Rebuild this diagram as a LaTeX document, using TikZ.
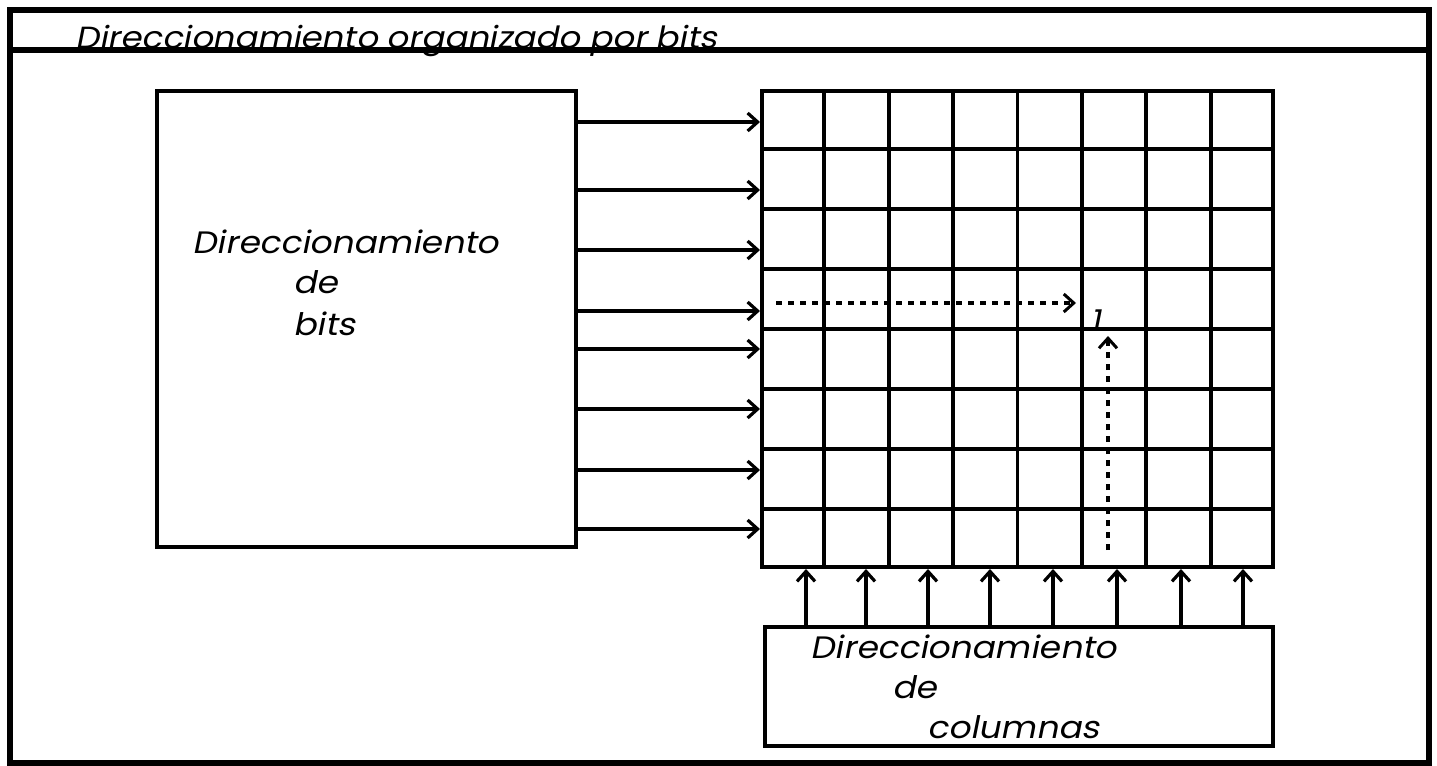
\documentclass[tikz,border=0pt]{standalone}
\usepackage{fontspec}
\newfontfamily\gothic[FakeSlant=0.2,FakeStretch=1.11]{Poppins}
\usetikzlibrary{arrows.meta,fit,calc}
\tikzset{
  frame/.style={draw=black,line width=3.3pt},
  boxstyle/.style={draw=black,line width=2pt,inner sep=0pt},
  gridline/.style={draw=black,line width=1.9pt},
  arr/.style={draw=black,line width=1.8pt,-{Straight Barb[length=5pt,width=9pt,line width=1.6pt]}},
  dotarr/.style={draw=black,line width=1.6pt,dash pattern=on 3pt off 3pt,-{Straight Barb[length=5pt,width=9pt,line width=1.5pt,sep=0pt]}},
  lbl/.style={anchor=base west,inner sep=0pt,font=\gothic\fontsize{15.5}{18}\selectfont},
  ttl/.style={anchor=base west,inner sep=0pt,font=\gothic\fontsize{15.3}{17}\selectfont},
}
\begin{document}
\begin{tikzpicture}[x=0.5pt,y=-0.5pt]
\useasboundingbox (0,0) rectangle (1437,766);
% outer frame and title
\node[frame,fit={(10,10) (1429,763)},inner sep=0pt] (outer) {};
\coordinate (tl) at (10,50);
\coordinate (tr) at (1429,50);
\draw[frame] (tl) -- (tr);
\node[ttl] (title) at (75,48) {Direccionamiento organizado por bits};
% left box
\node[boxstyle,fit={(157,91) (576,547)}] (bits) {};
\node[lbl] (b1) at (192,253) {Direccionamiento};
\node[lbl] (b2) at (293,293) {de};
\node[lbl] (b3) at (293,335) {bits};
% grid
\node[boxstyle,fit={(762,91) (1273,567)}] (grid) {};
\foreach \i in {1,...,7} {
  \draw[gridline] ($(grid.north west)!\i/8!(grid.north east)$) -- ($(grid.south west)!\i/8!(grid.south east)$);
  \draw[gridline] ($(grid.north west)!\i/8!(grid.south west)$) -- ($(grid.north east)!\i/8!(grid.south east)$);
}
% row arrows
\foreach \y [count=\k] in {122,190,250,311,349,409,470,529} {
  \coordinate (r\k) at (0,\y);
  \draw[arr] (bits.east |- r\k) -- (grid.west |- r\k);
}
% bottom box
\node[boxstyle,fit={(765,627) (1273,746)}] (cols) {};
\node[lbl] (c1) at (810,658) {Direccionamiento};
\node[lbl] (c2) at (892,698) {de};
\node[lbl] (c3) at (927,738) {columnas};
\foreach \x [count=\k] in {806,866,928,990,1053,1117,1181,1243} {
  \coordinate (q\k) at (\x,0);
  \draw[arr] (cols.north -| q\k) -- (grid.south -| q\k);
}
% selected bit
\node[inner sep=0pt,font=\gothic\fontsize{15}{16}\selectfont] (one) at (1096,321) {1};
\coordinate (hs) at (776,303);
\coordinate (he) at (1076,303);
\coordinate (vs) at (1108,550);
\coordinate (ve) at (1108,336);
\draw[dotarr] (hs) -- (he);
\draw[dotarr] (vs) -- (ve);
\end{tikzpicture}
\end{document}
